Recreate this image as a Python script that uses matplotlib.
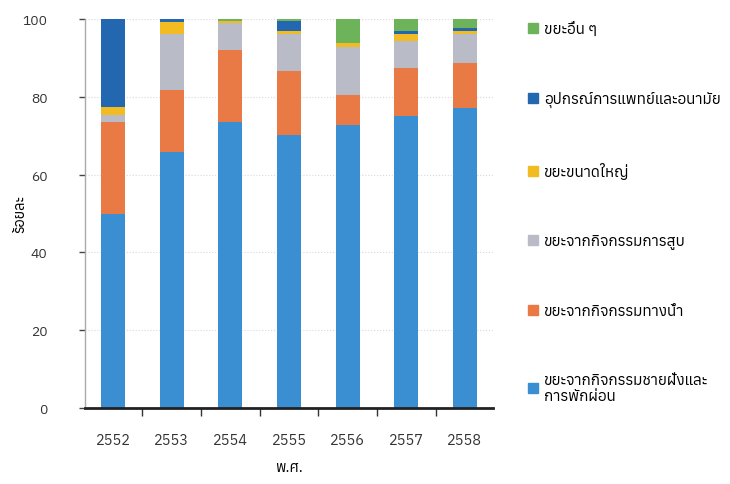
import matplotlib
matplotlib.use("Agg")
import matplotlib.pyplot as plt
from matplotlib import font_manager
from matplotlib.ft2font import FT2Font
from matplotlib.patches import Patch
import numpy as np

# ---- find a font with Thai glyphs ----
thai_fonts = []
for f in font_manager.fontManager.ttflist:
    try:
        cm = FT2Font(f.fname).get_charmap()
        if 0x0E01 in cm and 0x0E2D in cm:
            thai_fonts.append(f.name)
    except Exception:
        pass
families = (sorted(set(thai_fonts))[:1]) + ["DejaVu Sans"]
plt.rcParams["font.family"] = families

# ---- data ----
years = ["2552", "2553", "2554", "2555", "2556", "2557", "2558"]
series_names = [
    "ขยะจากกิจกรรมชายฝั่งและ\nการพักผ่อน",
    "ขยะจากกิจกรรมทางน้ำ",
    "ขยะจากกิจกรรมการสูบ",
    "ขยะขนาดใหญ่",
    "อุปกรณ์การแพทย์และอนามัย",
    "ขยะอื่น ๆ",
]
shoreline = [50.0, 65.9, 73.4, 70.2, 72.8, 75.0, 77.2]
water     = [23.4, 15.8, 18.6, 16.4, 7.7, 12.3, 11.4]
smoking   = [1.9, 14.4, 6.9, 9.5, 12.3, 7.0, 7.5]
large     = [2.2, 3.2, 0.7, 0.9, 1.0, 1.8, 0.8]
medical   = [22.5, 0.7, 0.0, 2.4, 0.0, 0.8, 0.7]
other     = [0.0, 0.0, 0.4, 0.6, 6.2, 3.1, 2.4]
yticks = [0, 20, 40, 60, 80, 100]

colors = ["#3a8fd2", "#ea7a45", "#b9bbc6", "#f3bb22", "#2267b0", "#6cb35a"]
data = [shoreline, water, smoking, large, medical, other]

fig = plt.figure(figsize=(7.3, 4.85), dpi=100)
ax = fig.add_axes([85/730, 1-409/485, (493-85)/730, (409-20)/485])

x = np.arange(len(years))
bottom = np.zeros(len(years))
for vals, c, name in zip(data, colors, series_names):
    ax.bar(x, vals, width=0.41, bottom=bottom, color=c, label=name, zorder=2)
    bottom += np.array(vals)

ax.set_xlim(-0.48, len(years) - 0.52)
ax.set_ylim(0, 100)
ax.set_yticks(yticks)
ax.set_yticklabels([str(v) for v in yticks], fontsize=10, color="#333333")
ax.set_xticks(x)
ax.set_xticklabels(years, fontsize=10.5, color="#333333")
ax.set_xticks(np.arange(len(years) - 1) + 0.5, minor=True)
ax.tick_params(axis="x", which="major", length=0, pad=18)
ax.tick_params(axis="x", which="minor", length=6, width=1, color="#333333", direction="out")
ax.tick_params(axis="y", length=4, width=1, color="#444444", pad=23)
ax.grid(axis="y", color="#d8d8e0", linewidth=0.8, linestyle=":", zorder=0)

for s in ["top", "right"]:
    ax.spines[s].set_visible(False)
ax.spines["left"].set_color("#aaaaaa")
ax.spines["left"].set_linewidth(1)
ax.spines["bottom"].set_color("#222222")
ax.spines["bottom"].set_linewidth(2)

ax.set_ylabel("ร้อยละ", fontsize=10.5, fontweight="bold")
ax.yaxis.set_label_coords(-0.142, 0.5)
ax.set_xlabel("พ.ศ.", fontsize=10.5, fontweight="bold")
ax.xaxis.set_label_coords(0.5, -0.134)

handles = [Patch(color=c) for c in colors][::-1]
labels = series_names[::-1]
fig.legend(handles, labels, loc="upper left", bbox_to_anchor=(522/730, 1-16/485),
           frameon=False, fontsize=11, handlelength=0.65, handleheight=0.65,
           handletextpad=0.4, labelspacing=3.6, borderaxespad=0)

fig.savefig("out.png", dpi=100)
